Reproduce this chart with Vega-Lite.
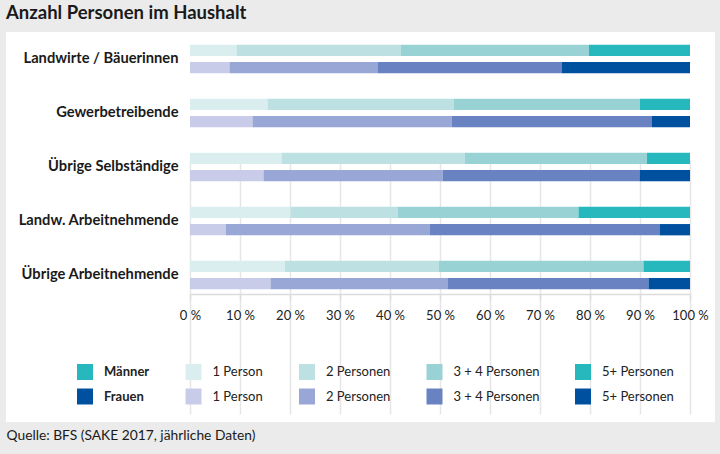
{
  "$schema": "https://vega.github.io/schema/vega-lite/v6.json",
  "autosize": {"type": "none"},
  "padding": {"left": 6, "top": 32, "right": 5, "bottom": 32},
  "width": 709,
  "height": 390,
  "background": "#ebebeb",
  "title": {"text": "Anzahl Personen im Haushalt", "anchor": "start", "frame": "group", "fontSize": 18.5, "fontWeight": "bold", "color": "#1a1a1a", "font": "Lato", "offset": 10},
  "config": {
    "font": "Lato",
    "view": {"fill": "white", "stroke": null}
  },
  "data": {"values": [
    {"cat": "Landwirte / Bäuerinnen", "sex": "Männer", "key": "Männer 1 Person", "pct": 9.3},
    {"cat": "Landwirte / Bäuerinnen", "sex": "Männer", "key": "Männer 2 Personen", "pct": 32.9},
    {"cat": "Landwirte / Bäuerinnen", "sex": "Männer", "key": "Männer 3 + 4 Personen", "pct": 37.6},
    {"cat": "Landwirte / Bäuerinnen", "sex": "Männer", "key": "Männer 5+ Personen", "pct": 20.2},
    {"cat": "Landwirte / Bäuerinnen", "sex": "Frauen", "key": "Frauen 1 Person", "pct": 7.9},
    {"cat": "Landwirte / Bäuerinnen", "sex": "Frauen", "key": "Frauen 2 Personen", "pct": 29.7},
    {"cat": "Landwirte / Bäuerinnen", "sex": "Frauen", "key": "Frauen 3 + 4 Personen", "pct": 36.8},
    {"cat": "Landwirte / Bäuerinnen", "sex": "Frauen", "key": "Frauen 5+ Personen", "pct": 25.6},
    {"cat": "Gewerbetreibende", "sex": "Männer", "key": "Männer 1 Person", "pct": 15.5},
    {"cat": "Gewerbetreibende", "sex": "Männer", "key": "Männer 2 Personen", "pct": 37.2},
    {"cat": "Gewerbetreibende", "sex": "Männer", "key": "Männer 3 + 4 Personen", "pct": 37.3},
    {"cat": "Gewerbetreibende", "sex": "Männer", "key": "Männer 5+ Personen", "pct": 10.0},
    {"cat": "Gewerbetreibende", "sex": "Frauen", "key": "Frauen 1 Person", "pct": 12.5},
    {"cat": "Gewerbetreibende", "sex": "Frauen", "key": "Frauen 2 Personen", "pct": 39.8},
    {"cat": "Gewerbetreibende", "sex": "Frauen", "key": "Frauen 3 + 4 Personen", "pct": 40.1},
    {"cat": "Gewerbetreibende", "sex": "Frauen", "key": "Frauen 5+ Personen", "pct": 7.6},
    {"cat": "Übrige Selbständige", "sex": "Männer", "key": "Männer 1 Person", "pct": 18.3},
    {"cat": "Übrige Selbständige", "sex": "Männer", "key": "Männer 2 Personen", "pct": 36.6},
    {"cat": "Übrige Selbständige", "sex": "Männer", "key": "Männer 3 + 4 Personen", "pct": 36.5},
    {"cat": "Übrige Selbständige", "sex": "Männer", "key": "Männer 5+ Personen", "pct": 8.6},
    {"cat": "Übrige Selbständige", "sex": "Frauen", "key": "Frauen 1 Person", "pct": 14.7},
    {"cat": "Übrige Selbständige", "sex": "Frauen", "key": "Frauen 2 Personen", "pct": 35.8},
    {"cat": "Übrige Selbständige", "sex": "Frauen", "key": "Frauen 3 + 4 Personen", "pct": 39.4},
    {"cat": "Übrige Selbständige", "sex": "Frauen", "key": "Frauen 5+ Personen", "pct": 10.1},
    {"cat": "Landw. Arbeitnehmende", "sex": "Männer", "key": "Männer 1 Person", "pct": 20.1},
    {"cat": "Landw. Arbeitnehmende", "sex": "Männer", "key": "Männer 2 Personen", "pct": 21.4},
    {"cat": "Landw. Arbeitnehmende", "sex": "Männer", "key": "Männer 3 + 4 Personen", "pct": 36.2},
    {"cat": "Landw. Arbeitnehmende", "sex": "Männer", "key": "Männer 5+ Personen", "pct": 22.3},
    {"cat": "Landw. Arbeitnehmende", "sex": "Frauen", "key": "Frauen 1 Person", "pct": 7.2},
    {"cat": "Landw. Arbeitnehmende", "sex": "Frauen", "key": "Frauen 2 Personen", "pct": 40.8},
    {"cat": "Landw. Arbeitnehmende", "sex": "Frauen", "key": "Frauen 3 + 4 Personen", "pct": 45.9},
    {"cat": "Landw. Arbeitnehmende", "sex": "Frauen", "key": "Frauen 5+ Personen", "pct": 6.1},
    {"cat": "Übrige Arbeitnehmende", "sex": "Männer", "key": "Männer 1 Person", "pct": 19.0},
    {"cat": "Übrige Arbeitnehmende", "sex": "Männer", "key": "Männer 2 Personen", "pct": 30.8},
    {"cat": "Übrige Arbeitnehmende", "sex": "Männer", "key": "Männer 3 + 4 Personen", "pct": 40.9},
    {"cat": "Übrige Arbeitnehmende", "sex": "Männer", "key": "Männer 5+ Personen", "pct": 9.3},
    {"cat": "Übrige Arbeitnehmende", "sex": "Frauen", "key": "Frauen 1 Person", "pct": 16.1},
    {"cat": "Übrige Arbeitnehmende", "sex": "Frauen", "key": "Frauen 2 Personen", "pct": 35.5},
    {"cat": "Übrige Arbeitnehmende", "sex": "Frauen", "key": "Frauen 3 + 4 Personen", "pct": 40.1},
    {"cat": "Übrige Arbeitnehmende", "sex": "Frauen", "key": "Frauen 5+ Personen", "pct": 8.3}
  ]},
  "mark": {"type": "bar"},
  "encoding": {
    "y": {
      "field": "cat", "type": "nominal",
      "scale": {
        "domain": ["Landwirte / Bäuerinnen", "Gewerbetreibende", "Übrige Selbständige", "Landw. Arbeitnehmende", "Übrige Arbeitnehmende"],
        "range": [8, 262], "paddingInner": 0.296, "paddingOuter": 0
      },
      "axis": {
        "title": null, "orient": "left", "offset": -172, "domain": false, "ticks": false, "tickSize": 0,
        "labelPadding": 0, "labelFontSize": 14.7, "labelFontWeight": "bold", "labelColor": "#1a1a1a",
        "labelAlign": "right", "labelBaseline": "middle", "grid": false, "labelLimit": 300
      }
    },
    "yOffset": {
      "field": "sex", "type": "nominal",
      "scale": {"domain": ["Männer", "Frauen"], "paddingInner": 0.35, "paddingOuter": 0.267}
    },
    "x": {
      "field": "pct", "type": "quantitative", "stack": "zero",
      "scale": {"domain": [0, 100], "range": [184, 684], "nice": false},
      "axis": {
        "orient": "bottom", "offset": -128,
        "values": [0, 10, 20, 30, 40, 50, 60, 70, 80, 90, 100],
        "labelExpr": "datum.value + ' %'",
        "labelFontSize": 13, "labelColor": "#222222", "labelPadding": 9, "labelOverlap": false, "labelFlush": false,
        "grid": true, "gridColor": "#e6e6e6", "gridWidth": 1.5,
        "domain": true, "domainColor": "#dcdcdc", "domainWidth": 1.5,
        "ticks": true, "tickColor": "#dcdcdc", "tickSize": 6, "tickWidth": 1.5,
        "title": "Quelle: BFS (SAKE 2017, jährliche Daten)",
        "titleX": 0, "titleY": 145.5, "titleAlign": "left", "titleAnchor": "start", "titleBaseline": "alphabetic",
        "titleFontSize": 13.8, "titleFontWeight": "normal", "titleColor": "#1a1a1a"
      }
    },
    "color": {
      "field": "key", "type": "nominal",
      "scale": {
        "domain": ["Männer", "Frauen", "Männer 1 Person", "Frauen 1 Person", "Männer 2 Personen", "Frauen 2 Personen",
                   "Männer 3 + 4 Personen", "Frauen 3 + 4 Personen", "Männer 5+ Personen", "Frauen 5+ Personen"],
        "range": ["#26b8bc", "#0050a0", "#daeef0", "#c8cce9", "#bde1e2", "#98a7d6",
                  "#98d2d5", "#6983c2", "#26b8bc", "#0050a0"]
      },
      "legend": {
        "title": null, "orient": "none", "legendX": 71, "legendY": 332,
        "columns": 5, "columnPadding": 35.5, "rowPadding": 8.5, "padding": 0,
        "symbolType": "square", "symbolSize": 256, "symbolStrokeWidth": 0, "symbolOpacity": 1,
        "labelOffset": 11, "labelFontSize": 13, "labelColor": "#222222", "labelLimit": 200,
        "labelExpr": "replace(replace(datum.label, 'Männer ', ''), 'Frauen ', '')",
        "encode": {
          "labels": {"update": {"fontWeight": {"signal": "datum.value === 'Männer' || datum.value === 'Frauen' ? 'bold' : 'normal'"}}}
        }
      }
    },
    "order": {"field": "key", "sort": "ascending"}
  }
}
